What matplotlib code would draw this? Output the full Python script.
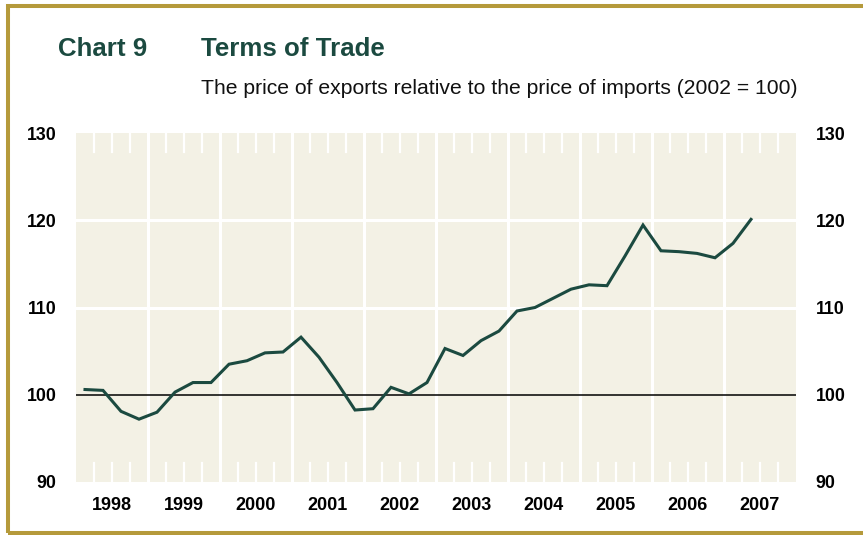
import matplotlib
matplotlib.use("Agg")
import matplotlib.pyplot as plt
from matplotlib.patches import Rectangle

plt.rcParams['font.family'] = ['Liberation Sans', 'DejaVu Sans']

# quarterly terms of trade index, 1998Q1 - 2007Q2 (2002 = 100)
years = [1998, 1999, 2000, 2001, 2002, 2003, 2004, 2005, 2006, 2007]
tot = [100.6, 100.5, 98.1, 97.2,
       98.0, 100.3, 101.4, 101.4,
       103.5, 103.9, 104.8, 104.9,
       106.6, 104.3, 101.4, 98.25,
       98.4, 100.85, 100.1, 101.4,
       105.3, 104.5, 106.2, 107.3,
       109.6, 110.0, 111.05, 112.1,
       112.6, 112.5, 115.9, 119.45,
       116.5, 116.4, 116.2, 115.7,
       117.35, 120.1]
yticks = [90, 100, 110, 120, 130]

x = [1998 + (i + 0.5) / 4 for i in range(len(tot))]

W, H = 863, 535
fig = plt.figure(figsize=(W / 100, H / 100), dpi=100)
ax = fig.add_axes([76 / W, (H - 482) / H, 720 / W, 349 / H])

bg = '#f3f1e5'
green = '#1b4a40'
ax.set_facecolor(bg)
ax.set_xlim(1998, 2008)
ax.set_ylim(90, 130)

# white grid: year separators, horizontal lines, quarter ticks top and bottom
for yr in years[1:]:
    ax.axvline(yr, color='white', lw=2.2, zorder=1)
for yv in [110, 120]:
    ax.axhline(yv, color='white', lw=2.2, zorder=1)
tl = 19 / 349
for yr in years:
    for q in [0.25, 0.5, 0.75]:
        ax.axvline(yr + q, ymin=0, ymax=tl, color='white', lw=1.6, zorder=1)
        ax.axvline(yr + q, ymin=1 - tl, ymax=1, color='white', lw=1.6, zorder=1)

ax.axhline(100, color='black', lw=1.1, zorder=2)
ax.plot(x, tot, color=green, lw=2.2, zorder=3, solid_joinstyle='miter')

for s in ax.spines.values():
    s.set_visible(False)

ax.set_xticks([yr + 0.5 for yr in years])
ax.set_xticklabels([str(yr) for yr in years], fontsize=13, fontweight='bold')
ax.set_yticks(yticks)
ax.set_yticklabels([str(v) for v in yticks], fontsize=12.8, fontweight='bold')
ax.tick_params(axis='x', length=0, pad=11)
ax.tick_params(axis='y', length=0, pad=14, labelright=True)

fig.text(58 / W, 1 - 56 / H, 'Chart 9', fontsize=18.6, fontweight='bold',
         color=green, va='baseline', ha='left')
fig.text(201 / W, 1 - 56 / H, 'Terms of Trade', fontsize=18.6, fontweight='bold',
         color=green, va='baseline', ha='left')
fig.text(201 / W, 1 - 94 / H,
         'The price of exports relative to the price of imports (2002 = 100)',
         fontsize=15.2, color='#111111', va='baseline', ha='left')

# gold frame
fig.patches.append(Rectangle((8 / W, 2 / H), (W + 2 - 8) / W, (H - 6 - 2) / H,
                             transform=fig.transFigure, fill=False,
                             edgecolor='#b59a3b', lw=2.9))

fig.savefig('out.png', dpi=100)
